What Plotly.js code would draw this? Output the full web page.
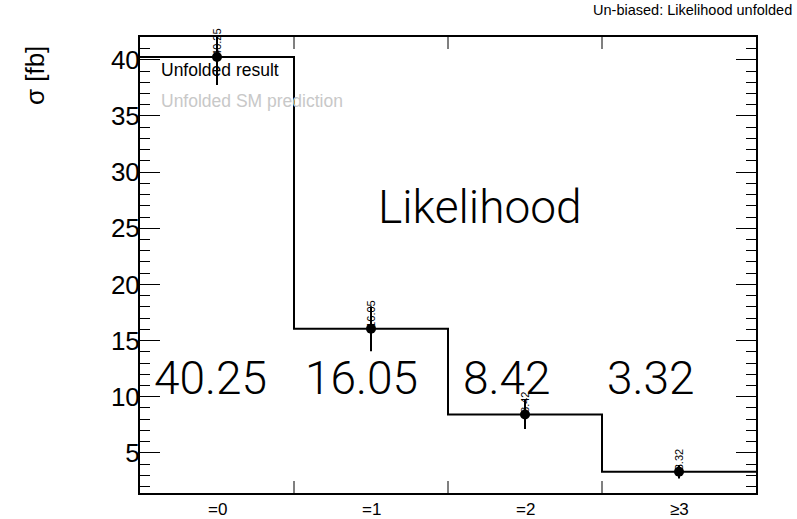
<!DOCTYPE html>
<html>
<head>
<meta charset="utf-8">
<script src="https://cdn.plot.ly/plotly-3.0.1.min.js"></script>
<style>html,body{margin:0;padding:0;background:#fff;}#chart{width:797px;height:519px;}</style>
</head>
<body>
<div id="chart"></div>
<script>
// ---- data ----
const categories = ['=0', '=1', '=2', '\u22653'];
const xsec = [40.25, 16.05, 8.42, 3.32];
const xsecErr = [2.5, 2.0, 1.3, 0.6];
const valueLabels = ['40.25', '16.05', '8.42', '3.32'];

// ---- derived ----
const binCenters = categories.map((c, i) => i + 0.5);
const binEdges = categories.map((c, i) => i).concat([categories.length]);
const innerEdges = binEdges.slice(1, -1);
const stepY = xsec.concat([xsec[xsec.length - 1]]);

const FONT = 'Liberation Sans, Arial, Helvetica, sans-serif';
const LIGHT = 'Roboto, Liberation Sans, sans-serif';
const PLOT_H = 456;           // plot-area height in px
const XTICK = 12 / PLOT_H;    // x tick length as paper fraction

const traces = [
  {
    type: 'scatter', mode: 'lines',
    x: binEdges, y: stepY,
    line: {shape: 'hv', color: '#000', width: 2},
    hoverinfo: 'skip', showlegend: false
  },
  {
    type: 'scatter', mode: 'markers',
    x: binCenters, y: xsec,
    marker: {color: '#000', size: 10},
    error_y: {type: 'data', array: xsecErr, visible: true, color: '#000', thickness: 2, width: 0},
    showlegend: false
  }
];

const annotations = [];
// category labels under the axis (bin centres)
binCenters.forEach((x, i) => {
  annotations.push({
    x: x, y: -0.036, xref: 'x', yref: 'paper',
    text: categories[i], showarrow: false,
    xanchor: 'center', yanchor: 'middle',
    font: {family: FONT, size: 17, color: '#000'}
  });
});
// small rotated value labels above each point
binCenters.forEach((x, i) => {
  annotations.push({
    x: x, y: xsec[i], xref: 'x', yref: 'y',
    text: valueLabels[i], textangle: -90, showarrow: false,
    xanchor: 'center', yanchor: 'bottom', borderpad: 0,
    font: {family: FONT, size: 11, color: '#000'}
  });
});
// large value labels
const bigLabelShift = [-0.045, -0.06, -0.12, -0.18];
binCenters.forEach((x, i) => {
  annotations.push({
    x: x + bigLabelShift[i], y: 11.7, xref: 'x', yref: 'y',
    text: valueLabels[i], showarrow: false,
    xanchor: 'center', yanchor: 'middle',
    font: {family: LIGHT, size: 46, color: '#000', weight: 300}
  });
});
annotations.push({
  x: 2.206, y: 26.9, xref: 'x', yref: 'y',
  text: 'Likelihood', showarrow: false, xanchor: 'center', yanchor: 'middle',
  font: {family: LIGHT, size: 46, color: '#000', weight: 300}
});
// legend-like text
annotations.push({
  x: 0.031, y: 0.927, xref: 'paper', yref: 'paper',
  text: 'Unfolded result', showarrow: false, xanchor: 'left', yanchor: 'middle',
  font: {family: FONT, size: 17.5, color: '#000'}
});
annotations.push({
  x: 0.031, y: 0.859, xref: 'paper', yref: 'paper',
  text: 'Unfolded SM prediction', showarrow: false, xanchor: 'left', yanchor: 'middle',
  font: {family: FONT, size: 17.5, color: '#c8c8c8'}
});
// y axis title
annotations.push({
  x: -0.17, y: 0.984, xref: 'paper', yref: 'paper',
  text: '\u03c3 [fb]', textangle: -90, showarrow: false,
  xanchor: 'center', yanchor: 'top',
  font: {family: FONT, size: 26, color: '#000'}
});

// bin-boundary tick marks (bottom and top), derived from the bin edges
const shapes = [];
innerEdges.forEach(e => {
  shapes.push({type: 'line', xref: 'x', yref: 'paper', x0: e, x1: e, y0: 0, y1: XTICK, line: {color: '#000', width: 1}});
  shapes.push({type: 'line', xref: 'x', yref: 'paper', x0: e, x1: e, y0: 1, y1: 1 - XTICK, line: {color: '#000', width: 1}});
});

const layout = {
  width: 797, height: 519,
  margin: {l: 140, r: 41, t: 37, b: 26, pad: 0},
  paper_bgcolor: '#fff', plot_bgcolor: '#fff',
  showlegend: false,
  title: {
    text: 'Un-biased: Likelihood unfolded',
    x: 0.994, xanchor: 'right', xref: 'container',
    y: 0.981, yanchor: 'middle', yref: 'container',
    font: {family: FONT, size: 14.5, color: '#000'}
  },
  xaxis: {
    range: [0, categories.length],
    showticklabels: false, ticks: '',
    showgrid: false, zeroline: false,
    showline: true, linecolor: '#000', linewidth: 2, mirror: true
  },
  yaxis: {
    range: [1.43, 42.03],
    tickmode: 'linear', tick0: 0, dtick: 5,
    ticks: 'inside', ticklen: 20, tickwidth: 1, tickcolor: '#000',
    minor: {tickmode: 'linear', tick0: 0, dtick: 1, ticks: 'inside', ticklen: 10, tickwidth: 1, tickcolor: '#000', showgrid: false},
    showgrid: false, zeroline: false,
    showline: true, linecolor: '#000', linewidth: 2, mirror: 'ticks',
    tickfont: {family: FONT, size: 26, color: '#000'},
    ticklabelstandoff: -7
  },
  shapes: shapes,
  annotations: annotations
};

Plotly.newPlot('chart', traces, layout, {displayModeBar: false, staticPlot: true});
</script>
</body>
</html>
